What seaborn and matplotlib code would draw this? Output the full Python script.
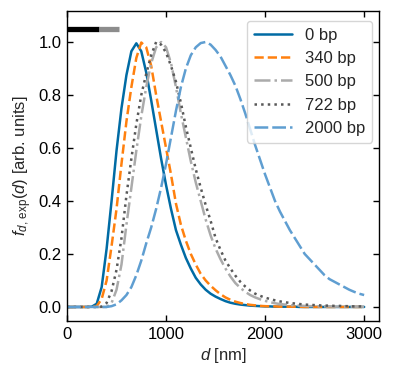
import matplotlib
matplotlib.use("Agg")
import matplotlib.pyplot as plt
import seaborn as sns
import numpy as np

# ---- data ----
d_nm = list(range(0, 3001, 50))

labels = ["0 bp", "340 bp", "500 bp", "722 bp", "2000 bp"]

f_0bp = [0, 0, 0, 0, 0, 0.001, 0.012, 0.075, 0.22, 0.40,
         0.59, 0.75, 0.875, 0.965, 0.995, 0.965, 0.885, 0.78, 0.67, 0.56,
         0.46, 0.37, 0.29, 0.235, 0.185, 0.145, 0.11, 0.085, 0.065, 0.05,
         0.039, 0.03, 0.022, 0.016, 0.012, 0.009, 0.007, 0.005, 0.004, 0.003,
         0.002, 0.002, 0.001, 0.001, 0.001, 0.001, 0.001, 0, 0, 0,
         0, 0, 0, 0, 0, 0, 0, 0, 0, 0, 0]

f_340bp = [0, 0, 0, 0, 0, 0, 0.003, 0.03, 0.10, 0.23,
           0.37, 0.54, 0.70, 0.83, 0.94, 0.998, 0.98, 0.91, 0.80, 0.70,
           0.60, 0.50, 0.39, 0.31, 0.25, 0.20, 0.16, 0.125, 0.10, 0.08,
           0.063, 0.048, 0.036, 0.027, 0.02, 0.015, 0.011, 0.008, 0.006, 0.004,
           0.003, 0.002, 0.002, 0.001, 0.001, 0.001, 0.001, 0.001, 0, 0,
           0, 0, 0, 0, 0, 0, 0, 0, 0, 0, 0]

f_500bp = [0, 0, 0, 0, 0, 0, 0, 0, 0, 0.015,
           0.065, 0.16, 0.31, 0.45, 0.59, 0.72, 0.83, 0.92, 0.98, 1.0,
           0.98, 0.92, 0.83, 0.73, 0.64, 0.55, 0.47, 0.40, 0.33, 0.27,
           0.22, 0.18, 0.145, 0.115, 0.09, 0.072, 0.057, 0.045, 0.036, 0.029,
           0.023, 0.018, 0.014, 0.011, 0.009, 0.007, 0.006, 0.005, 0.004, 0.003,
           0.003, 0.002, 0.002, 0.002, 0.001, 0.001, 0.001, 0.001, 0.001, 0.001, 0.001]

f_722bp = [0, 0, 0, 0, 0, 0, 0, 0.001, 0.015, 0.06,
           0.14, 0.26, 0.42, 0.56, 0.69, 0.80, 0.88, 0.95, 1.0, 0.99,
           0.96, 0.91, 0.85, 0.77, 0.68, 0.60, 0.52, 0.45, 0.385, 0.325,
           0.26, 0.215, 0.175, 0.145, 0.118, 0.095, 0.077, 0.062, 0.05, 0.042,
           0.035, 0.03, 0.025, 0.021, 0.018, 0.015, 0.013, 0.011, 0.009, 0.008,
           0.007, 0.006, 0.005, 0.005, 0.004, 0.004, 0.003, 0.003, 0.002, 0.002, 0.002]

f_2000bp = [0, 0, 0, 0, 0, 0, 0, 0, 0, 0.003,
            0.01, 0.025, 0.045, 0.075, 0.12, 0.175, 0.24, 0.30, 0.37, 0.45,
            0.54, 0.64, 0.74, 0.83, 0.90, 0.95, 0.98, 0.996, 1.0, 0.99,
            0.97, 0.945, 0.91, 0.875, 0.835, 0.785, 0.73, 0.67, 0.61, 0.555,
            0.50, 0.45, 0.40, 0.36, 0.325, 0.29, 0.26, 0.23, 0.20, 0.18,
            0.16, 0.14, 0.12, 0.105, 0.095, 0.085, 0.075, 0.065, 0.057, 0.05, 0.045]

series = [f_0bp, f_340bp, f_500bp, f_722bp, f_2000bp]

# scale bars drawn near the top-left
bar_starts = [0, 325]
bar_ends = [325, 530]
bar_level = 1.05

# ---- style ----
colors = ["#006BA4", "#FF800E", "#ABABAB", "#595959", "#5F9ED1"]
linestyles = ["-", "--", "-.", ":", (0, (5.5, 1.6))]
bar_colors = ["black", "#8C8C8C"]

sns.set_style("ticks")
plt.rcParams["font.family"] = ["Liberation Sans", "DejaVu Sans"]
plt.rcParams["font.size"] = 12
plt.rcParams["mathtext.fontset"] = "custom"
plt.rcParams["mathtext.rm"] = "Liberation Sans"
plt.rcParams["mathtext.it"] = "Liberation Sans:italic"
plt.rcParams["mathtext.bf"] = "Liberation Sans:bold"

fig = plt.figure(figsize=(3.95, 3.78), dpi=100)
ax = fig.add_axes([67 / 395, 57 / 378, 312 / 395, 310 / 378])

for vals, lab, c, ls in zip(series, labels, colors, linestyles):
    sns.lineplot(x=d_nm, y=vals, ax=ax, color=c, linestyle=ls, lw=1.8, label=lab)

for x0, x1, bc in zip(bar_starts, bar_ends, bar_colors):
    ax.plot([x0, x1], [bar_level, bar_level], color=bc, lw=3.8,
            solid_capstyle="butt")

ax.set_xlim(0, 3150)
ax.set_ylim(-0.053, 1.117)
ax.set_xticks([0, 1000, 2000, 3000])
ax.set_yticks([0.0, 0.2, 0.4, 0.6, 0.8, 1.0])
ax.set_yticklabels(["0.0", "0.2", "0.4", "0.6", "0.8", "1.0"])
ax.tick_params(direction="in", top=True, right=True, length=4.5, width=1,
               labelsize=12, colors="black", pad=4)
for s in ax.spines.values():
    s.set_visible(True)
    s.set_linewidth(1.0)
    s.set_color("black")

ax.set_xlabel(r"$d$ [nm]", fontsize=12, labelpad=3)
ax.set_ylabel(r"$f_{d,\,\mathrm{exp}}(d)$ [arb. units]", fontsize=12, labelpad=3)

leg = ax.legend(loc="upper right", fontsize=12, handlelength=2.3,
                frameon=True, fancybox=True, borderaxespad=0,
                bbox_to_anchor=(0.978, 0.968))
leg.get_frame().set_edgecolor("0.8")

fig.savefig("out.png", dpi=100)
